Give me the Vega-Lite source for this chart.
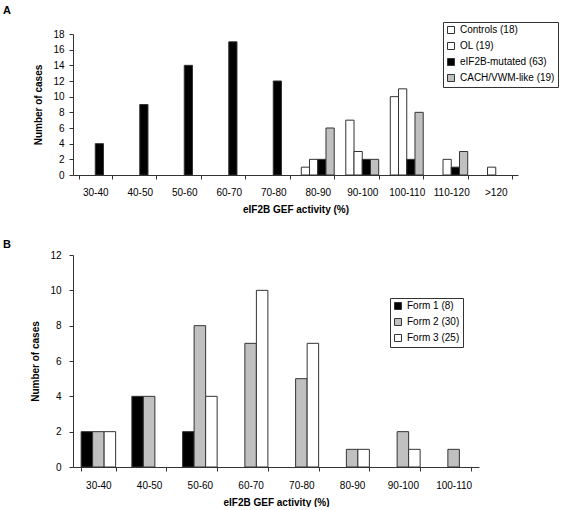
{
  "$schema": "https://vega.github.io/schema/vega-lite/v6.json",
  "padding": {"left": 3, "top": 4, "right": 0, "bottom": 0},
  "background": "white",
  "spacing": 25,
  "config": {
    "font": "Liberation Sans",
    "view": {"stroke": null},
    "axis": {"domainColor": "#333", "tickColor": "#333", "labelColor": "black", "titleColor": "black", "labelFontSize": 10, "titleFontSize": 10, "titleFontWeight": "bold", "grid": false, "tickSize": 4, "labelFont": "Liberation Sans", "titleFont": "Liberation Sans"},
    "legend": {"labelFont": "Liberation Sans", "labelFontSize": 10, "labelColor": "black", "symbolType": "square", "symbolSize": 49, "symbolStrokeColor": "#333", "symbolStrokeWidth": 1, "strokeColor": "#333", "fillColor": "white", "padding": 3, "rowPadding": 4, "labelOffset": 4, "title": null},
    "title": {"font": "Liberation Sans", "fontSize": 11, "fontWeight": "bold", "color": "black", "anchor": "start", "frame": "group"}
  },
  "resolve": {"scale": {"fill": "independent", "x": "independent", "y": "independent", "xOffset": "independent"}, "legend": {"fill": "independent"}},
  "vconcat": [
    {
      "width": 445,
      "height": 141,
      "title": {"text": "A", "dx": -70, "offset": 6},
      "data": {"values": [
        {"range": "30-40", "group": "eIF2B-mutated (63)", "count": 4},
        {"range": "40-50", "group": "eIF2B-mutated (63)", "count": 9},
        {"range": "50-60", "group": "eIF2B-mutated (63)", "count": 14},
        {"range": "60-70", "group": "eIF2B-mutated (63)", "count": 17},
        {"range": "70-80", "group": "eIF2B-mutated (63)", "count": 12},
        {"range": "80-90", "group": "Controls (18)", "count": 1},
        {"range": "80-90", "group": "OL (19)", "count": 2},
        {"range": "80-90", "group": "eIF2B-mutated (63)", "count": 2},
        {"range": "80-90", "group": "CACH/VWM-like (19)", "count": 6},
        {"range": "90-100", "group": "Controls (18)", "count": 7},
        {"range": "90-100", "group": "OL (19)", "count": 3},
        {"range": "90-100", "group": "eIF2B-mutated (63)", "count": 2},
        {"range": "90-100", "group": "CACH/VWM-like (19)", "count": 2},
        {"range": "100-110", "group": "Controls (18)", "count": 10},
        {"range": "100-110", "group": "OL (19)", "count": 11},
        {"range": "100-110", "group": "eIF2B-mutated (63)", "count": 2},
        {"range": "100-110", "group": "CACH/VWM-like (19)", "count": 8},
        {"range": "110-120", "group": "OL (19)", "count": 2},
        {"range": "110-120", "group": "eIF2B-mutated (63)", "count": 1},
        {"range": "110-120", "group": "CACH/VWM-like (19)", "count": 3},
        {"range": ">120", "group": "OL (19)", "count": 1}
      ]},
      "mark": {"type": "bar", "stroke": "#333", "strokeWidth": 1},
      "encoding": {
        "x": {"field": "range", "type": "nominal", "sort": ["30-40", "40-50", "50-60", "60-70", "70-80", "80-90", "90-100", "100-110", "110-120", ">120"], "scale": {"paddingInner": 0.26, "paddingOuter": 0.13}, "axis": {"labelAngle": 0, "tickBand": "extent", "title": "eIF2B GEF activity (%)", "labelPadding": 8, "titlePadding": 7}},
        "xOffset": {"field": "group", "type": "nominal", "scale": {"domain": ["Controls (18)", "OL (19)", "eIF2B-mutated (63)", "CACH/VWM-like (19)"], "paddingInner": 0, "paddingOuter": 0}},
        "y": {"field": "count", "type": "quantitative", "scale": {"domain": [0, 18]}, "axis": {"values": [0, 2, 4, 6, 8, 10, 12, 14, 16, 18], "title": "Number of cases", "labelPadding": 5, "titlePadding": 9}},
        "fill": {"field": "group", "type": "nominal", "scale": {"domain": ["Controls (18)", "OL (19)", "eIF2B-mutated (63)", "CACH/VWM-like (19)"], "range": ["white", "white", "black", "#c0c0c0"]}, "legend": {"orient": "none", "legendX": 370, "legendY": -12}}
      }
    },
    {
      "width": 406,
      "height": 212,
      "title": {"text": "B", "dx": -70, "offset": 0},
      "data": {"values": [
        {"range": "30-40", "form": "Form 1 (8)", "count": 2},
        {"range": "30-40", "form": "Form 2 (30)", "count": 2},
        {"range": "30-40", "form": "Form 3 (25)", "count": 2},
        {"range": "40-50", "form": "Form 1 (8)", "count": 4},
        {"range": "40-50", "form": "Form 2 (30)", "count": 4},
        {"range": "50-60", "form": "Form 1 (8)", "count": 2},
        {"range": "50-60", "form": "Form 2 (30)", "count": 8},
        {"range": "50-60", "form": "Form 3 (25)", "count": 4},
        {"range": "60-70", "form": "Form 2 (30)", "count": 7},
        {"range": "60-70", "form": "Form 3 (25)", "count": 10},
        {"range": "70-80", "form": "Form 2 (30)", "count": 5},
        {"range": "70-80", "form": "Form 3 (25)", "count": 7},
        {"range": "80-90", "form": "Form 2 (30)", "count": 1},
        {"range": "80-90", "form": "Form 3 (25)", "count": 1},
        {"range": "90-100", "form": "Form 2 (30)", "count": 2},
        {"range": "90-100", "form": "Form 3 (25)", "count": 1},
        {"range": "100-110", "form": "Form 2 (30)", "count": 1}
      ]},
      "mark": {"type": "bar", "stroke": "#333", "strokeWidth": 1},
      "encoding": {
        "x": {"field": "range", "type": "nominal", "sort": ["30-40", "40-50", "50-60", "60-70", "70-80", "80-90", "90-100", "100-110"], "scale": {"paddingInner": 0.32, "paddingOuter": 0.16}, "axis": {"labelAngle": 0, "tickBand": "extent", "title": "eIF2B GEF activity (%)", "labelPadding": 9, "titlePadding": 7}},
        "xOffset": {"field": "form", "type": "nominal", "scale": {"domain": ["Form 1 (8)", "Form 2 (30)", "Form 3 (25)"], "paddingInner": 0, "paddingOuter": 0}},
        "y": {"field": "count", "type": "quantitative", "scale": {"domain": [0, 12]}, "axis": {"values": [0, 2, 4, 6, 8, 10, 12], "title": "Number of cases", "labelPadding": 8, "titlePadding": 9}},
        "fill": {"field": "form", "type": "nominal", "scale": {"domain": ["Form 1 (8)", "Form 2 (30)", "Form 3 (25)"], "range": ["black", "#c0c0c0", "white"]}, "legend": {"orient": "none", "legendX": 317, "legendY": 43}}
      }
    }
  ]
}
